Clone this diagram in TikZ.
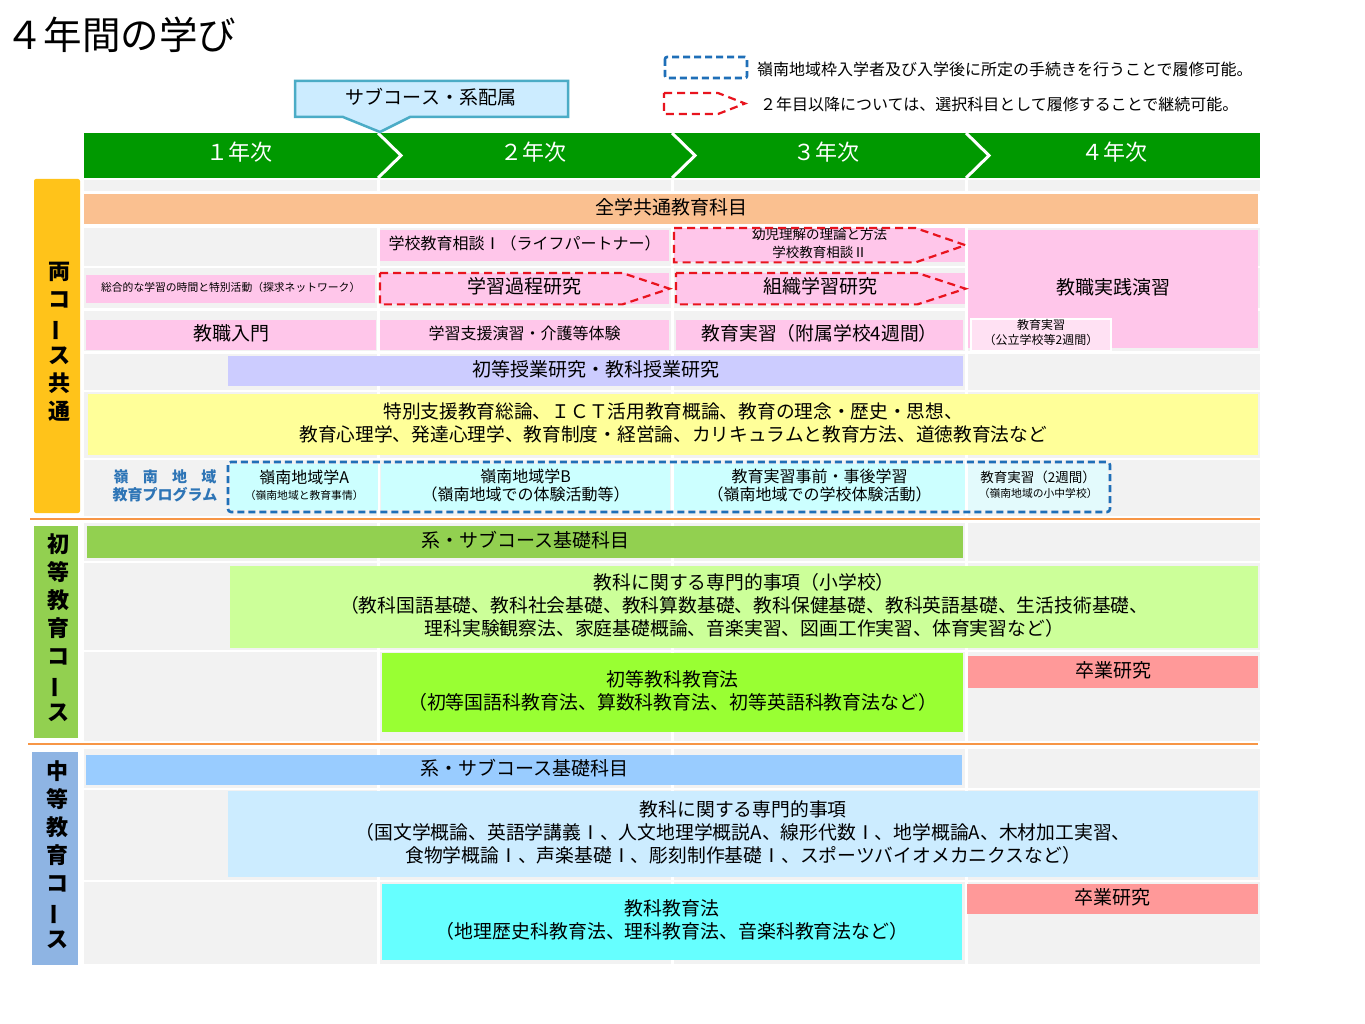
\documentclass[tikz,border=0pt]{standalone}
\usepackage{fontspec}
\setmainfont{Noto Sans CJK JP}
\usetikzlibrary{calc}
\definecolor{bggray}{HTML}{F2F2F2}
\definecolor{hdrgreen}{HTML}{009900}
\definecolor{callfill}{HTML}{CCECFF}
\definecolor{callline}{HTML}{4BACC6}
\definecolor{orangeC}{HTML}{FAC090}
\definecolor{pinkC}{HTML}{FFC6EA}
\definecolor{lpinkC}{HTML}{FFE1F3}
\definecolor{lavC}{HTML}{CCCCFF}
\definecolor{yellowC}{HTML}{FFFF99}
\definecolor{cyanL}{HTML}{CCFFFF}
\definecolor{cyanLL}{HTML}{E3FAFC}
\definecolor{greenA}{HTML}{92D050}
\definecolor{greenL}{HTML}{CCFF99}
\definecolor{greenB}{HTML}{99FF33}
\definecolor{salmonC}{HTML}{FF9999}
\definecolor{blueA}{HTML}{99CCFF}
\definecolor{blueL}{HTML}{CCECFF}
\definecolor{cyanB}{HTML}{66FFFF}
\definecolor{leftY}{HTML}{FFC31A}
\definecolor{leftB}{HTML}{8EB4E3}
\definecolor{sepC}{HTML}{F79646}
\definecolor{dashB}{HTML}{1F6FB8}
\definecolor{dashR}{HTML}{E8141E}
\definecolor{progC}{HTML}{2E75B6}
\newcommand\fsz[2]{\fontsize{#1}{#2}\selectfont}
% \bx{name}{x1}{y1}{x2}{y2}{fill}{font}{text}  -- filled cell and its text (raised 2pt)
\newcommand\bx[8]{%
  \node[box,fill=#6,minimum width={#4-#2},minimum height={#5-#3}] (#1) at (#2,#3) {};
  \node[boxtext,font={#7}] (#1-t) at ([yshift=2pt]#1.center) {#8};}
\begin{document}
\begin{tikzpicture}[x=1pt,y=-1pt,
  box/.style={anchor=north west,inner sep=0pt},
  boxtext/.style={inner sep=0pt,align=center,text=black},
  yr/.style={text=white,font=\fsz{22}{26}},
  leftlab/.style={align=center,font=\bfseries\fsz{22}{28}},
  legtext/.style={anchor=west,font=\fsz{16}{19},inner sep=0pt},
  bluedash/.style={draw=dashB,line width=2.6pt,dash pattern=on 7pt off 4pt,rounded corners=2pt},
  reddash/.style={draw=dashR,line width=2.2pt,dash pattern=on 8pt off 5pt},
  sepline/.style={draw=sepC,line width=2.6pt},
  chev/.style={draw=white,line width=3pt,line join=miter}]
\useasboundingbox (0,0) rectangle (1365,1024);
\fill[white] (0,0) rectangle (1365,1024);
% title
\node[anchor=west,inner sep=0pt,font=\fsz{38.5}{42}] (title) at (5,35) {４年間の学び};
% header
\fill[hdrgreen] (84,133) rectangle (1260,178);
\foreach \cx in {378,672,966}{
  \draw[chev] (\cx,133) -- ({\cx+23},155.5) -- (\cx,178);
}
\node[yr] (y1) at (239,152) {１年次};
\node[yr] (y2) at (533,152) {２年次};
\node[yr] (y3) at (826,152) {３年次};
\node[yr] (y4) at (1114,152) {４年次};
% callout
\draw[fill=callfill,draw=callline,line width=2.5pt,line join=miter]
  (295,81) -- (568,81) -- (568,117) -- (410,117) -- (380,132) -- (343,117) -- (295,117) -- cycle;
\node[font=\fsz{19}{22}] (call) at (431,97) {サブコース・系配属};
% legend
\draw[bluedash] (665,57) rectangle (747,78);
\node[legtext] (leg1) at (757,69) {嶺南地域枠入学者及び入学後に所定の手続きを行うことで履修可能。};
\draw[reddash] (664,93) -- (718,93) -- (745,103.5) -- (718,114) -- (664,114) -- cycle;
\node[legtext] (leg2) at (760,104) {２年目以降については、選択科目として履修することで継続可能。};
% gray background cells
\foreach \ya/\yb in {180/191,228/266,268/308,311/351,354/390,392/458,460/516,523/561,563/650,652/741,749/788,790/880,882/964}{
  \foreach \xa/\xb in {84/377,380/671,674/965,968/1260}{
    \fill[bggray] (\xa,\ya) rectangle (\xb,\yb);
  }
}
% left labels
\fill[leftY,rounded corners=2pt] (34,179) rectangle (80,513);
\node[leftlab] (lab1) at (59,342) {両\\コ\\\rotatebox[origin=c]{90}{ー}\\ス\\共\\通};
\fill[greenA] (34,526) rectangle (78,738);
\node[leftlab] (lab2) at (58,628) {初\\等\\教\\育\\コ\\\rotatebox[origin=c]{90}{ー}\\ス};
\fill[leftB] (32,752) rectangle (78,965);
\node[leftlab] (lab3) at (57,855) {中\\等\\教\\育\\コ\\\rotatebox[origin=c]{90}{ー}\\ス};
% separators
\draw[sepline] (30,519) -- (1260,519);
\draw[sepline] (28,744) -- (1258,744);
% rows
\bx{zengaku}{84}{194}{1258}{224}{orangeC}{\fsz{19}{22}}{全学共通教育科目}
\bx{soudan}{380}{230}{669}{261}{pinkC}{\fsz{16}{20}}{学校教育相談Ⅰ（ライフパートナー）}
\bx{youji}{674}{228}{965}{262}{pinkC}{\fsz{13.5}{18}}{幼児理解の理論と方法\\学校教育相談Ⅱ}
\bx{jissen}{968}{230}{1258}{348}{pinkC}{\fsz{19}{22}}{教職実践演習}
\bx{sougou}{86}{275}{375}{303}{pinkC}{\fsz{10.8}{13}}{総合的な学習の時間と特別活動（探求ネットワーク）}
\bx{katei}{380}{273}{669}{304}{pinkC}{\fsz{19}{22}}{学習過程研究}
\bx{soshiki}{676}{273}{965}{304}{pinkC}{\fsz{19}{22}}{組織学習研究}
\bx{nyumon}{86}{320}{376}{350}{pinkC}{\fsz{19}{22}}{教職入門}
\bx{shien}{380}{320}{669}{350}{pinkC}{\fsz{16}{20}}{学習支援演習・介護等体験}
\bx{fuzoku}{676}{320}{963}{350}{pinkC}{\fsz{18.8}{22}}{教育実習（附属学校4週間）}
\node[box,fill=lpinkC,draw=white,line width=2pt,minimum width=140,minimum height=32] (kouritsu) at (970,318) {};
\node[boxtext,font=\fsz{12}{15}] (kouritsu-t) at ([yshift=2pt]kouritsu.center) {教育実習\\（公立学校等2週間）};
% red dashed outlines
\draw[reddash] (youji.north west) -- ($(youji.north east)+(-50,0)$) -- (youji.east) -- ($(youji.south east)+(-50,0)$) -- (youji.south west) -- cycle;
\draw[reddash] (katei.north west) -- ($(katei.north east)+(-47,0)$) -- (katei.east) -- ($(katei.south east)+(-47,0)$) -- (katei.south west) -- cycle;
\draw[reddash] (soshiki.north west) -- ($(soshiki.north east)+(-48,0)$) -- (soshiki.east) -- ($(soshiki.south east)+(-48,0)$) -- (soshiki.south west) -- cycle;
\bx{jugyo}{228}{356}{963}{386}{lavC}{\fsz{19}{22}}{初等授業研究・教科授業研究}
\bx{kyotsu}{88}{394}{1258}{455}{yellowC}{\fsz{18.7}{23}}{特別支援教育総論、ＩＣＴ活用教育概論、教育の理念・歴史・思想、\\教育心理学、発達心理学、教育制度・経営論、カリキュラムと教育方法、道徳教育法など}
% reinan program
\node[align=center,text=progC,font=\bfseries\fsz{15}{18}] (prog) at (165,486) {\makebox[103pt][s]{嶺\hfill 南\hfill 地\hfill 域}\\教育プログラム};
\bx{rA}{230}{464}{378}{510}{cyanL}{\fsz{16}{16}}{嶺南地域学A\\\fsz{10.8}{12}（嶺南地域と教育事情）}
\bx{rB}{381}{464}{670}{510}{cyanL}{\fsz{16}{18}}{嶺南地域学B\\\fsz{16}{18}（嶺南地域での体験活動等）}
\bx{rC}{674}{464}{965}{510}{cyanL}{\fsz{16}{18}}{教育実習事前・事後学習\\\fsz{16}{18}（嶺南地域での学校体験活動）}
\bx{rD}{968}{464}{1108}{510}{cyanLL}{\fsz{13.5}{15}}{教育実習（2週間）\\\fsz{10.8}{12}（嶺南地域の小中学校）}
\draw[bluedash,rounded corners=3pt] (228,462) rectangle (1110,512);
% elementary course
\bx{kiso1}{87}{526}{963}{558}{greenA}{\fsz{19}{22}}{系・サブコース基礎科目}
\bx{senmon1}{230}{566}{1258}{648}{greenL}{\fsz{18.8}{23}}{教科に関する専門的事項（小学校）\\（教科国語基礎、教科社会基礎、教科算数基礎、教科保健基礎、教科英語基礎、生活技術基礎、\\理科実験観察法、家庭基礎概論、音楽実習、図画工作実習、体育実習など）}
\bx{kyoka1}{382}{653}{963}{732}{greenB}{\fsz{18.9}{23}}{初等教科教育法\\（初等国語科教育法、算数科教育法、初等英語科教育法など）}
\bx{sotsu1}{968}{656}{1258}{688}{salmonC}{\fsz{19}{22}}{卒業研究}
% secondary course
\bx{kiso2}{86}{755}{962}{785}{blueA}{\fsz{19}{22}}{系・サブコース基礎科目}
\bx{senmon2}{228}{791}{1258}{877}{blueL}{\fsz{18.8}{23}}{教科に関する専門的事項\\（国文学概論、英語学講義Ⅰ、人文地理学概説A、線形代数Ⅰ、地学概論A、木材加工実習、\\食物学概論Ⅰ、声楽基礎Ⅰ、彫刻制作基礎Ⅰ、スポーツバイオメカニクスなど）}
\bx{kyoka2}{382}{884}{962}{960}{cyanB}{\fsz{18.9}{23}}{教科教育法\\（地理歴史科教育法、理科教育法、音楽科教育法など）}
\bx{sotsu2}{967}{884}{1258}{914}{salmonC}{\fsz{19}{22}}{卒業研究}
\end{tikzpicture}
\end{document}
